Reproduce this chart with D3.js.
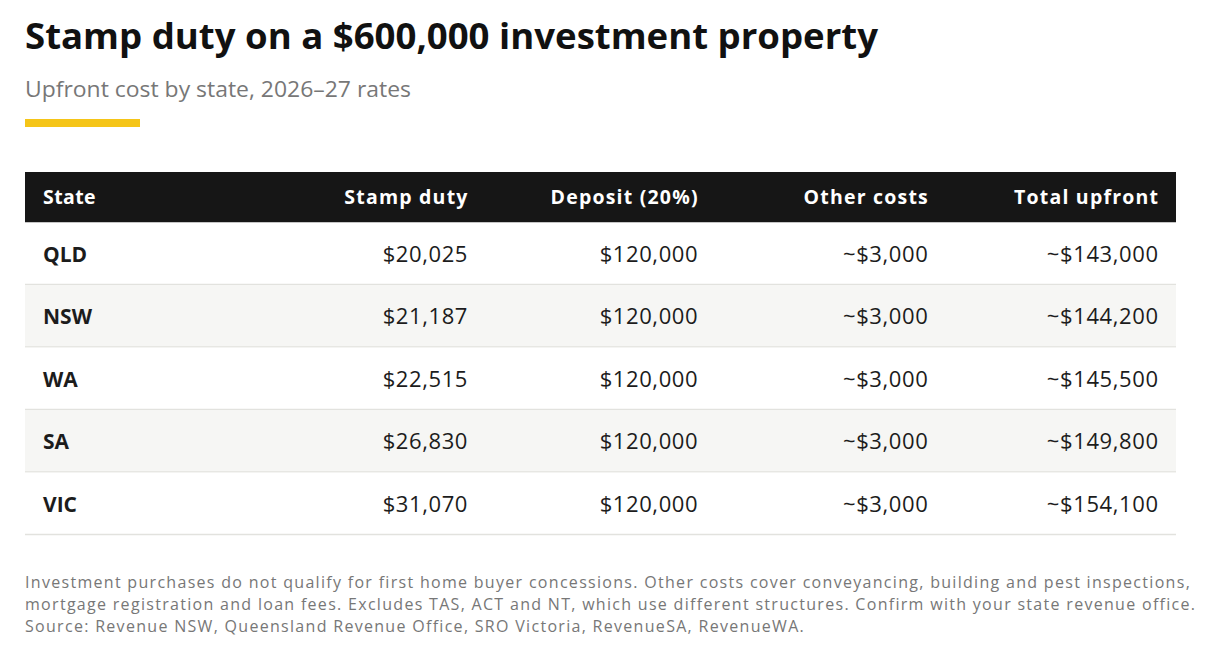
<!DOCTYPE html>
<html>
<head>
<meta charset="utf-8">
<script src="https://cdn.jsdelivr.net/npm/d3@7"></script>
<style>
  body { margin: 0; background: #fff; }
  svg { display: block; font-family: "Open Sans", sans-serif; }
</style>
</head>
<body>
<div class="chart-container"></div>
<script>
const states = ["QLD", "NSW", "WA", "SA", "VIC"];
const stampDuty = [20025, 21187, 22515, 26830, 31070];
const deposit = [120000, 120000, 120000, 120000, 120000];
const otherCosts = [3000, 3000, 3000, 3000, 3000];
const totalUpfront = [143000, 144200, 145500, 149800, 154100];
const columns = ["State", "Stamp duty", "Deposit (20%)", "Other costs", "Total upfront"];
const approxColumns = ["Other costs", "Total upfront"];

const footnoteLines = [
    "Investment purchases do not qualify for first home buyer concessions. Other costs cover conveyancing, building and pest inspections,",
    "mortgage registration and loan fees. Excludes TAS, ACT and NT, which use different structures. Confirm with your state revenue office.",
    "Source: Revenue NSW, Queensland Revenue Office, SRO Victoria, RevenueSA, RevenueWA."
];

const w = 1230;
const h = 670;
const left = 25;
const right = 1176;
const headerTop = 172;
const headerH = 50.5;
const rowsBottom = 535;
const cellPad = 18;

const money = d3.format("$,");

const rows = states.map((s, i) => ({
    "State": s,
    "Stamp duty": stampDuty[i],
    "Deposit (20%)": deposit[i],
    "Other costs": otherCosts[i],
    "Total upfront": totalUpfront[i]
}));

const svg = d3.select(".chart-container")
    .append("svg")
    .attr("width", w)
    .attr("height", h);

// title block
svg.append("text")
    .attr("x", left)
    .attr("y", 49)
    .style("font-size", "35px")
    .style("font-weight", 700)
    .attr("fill", "#111")
    .attr("textLength", 853)
    .attr("lengthAdjust", "spacingAndGlyphs")
    .text("Stamp duty on a $600,000 investment property");

svg.append("text")
    .attr("x", left)
    .attr("y", 97)
    .style("font-size", "21px")
    .attr("fill", "#777")
    .attr("textLength", 386)
    .attr("lengthAdjust", "spacingAndGlyphs")
    .text("Upfront cost by state, 2026\u201327 rates");

svg.append("rect")
    .attr("x", left)
    .attr("y", 119)
    .attr("width", 115)
    .attr("height", 8)
    .attr("fill", "#f5c518");

// table scales
const xScale = d3.scaleBand()
    .domain(columns)
    .range([left, right]);

const yScale = d3.scaleBand()
    .domain(states)
    .range([headerTop + headerH, rowsBottom]);

const textX = (col) => col === "State"
    ? xScale(col) + cellPad
    : xScale(col) + xScale.bandwidth() - cellPad;

const anchor = (col) => col === "State" ? "start" : "end";

// header
svg.append("rect")
    .attr("x", left)
    .attr("y", headerTop)
    .attr("width", right - left)
    .attr("height", headerH)
    .attr("fill", "#161616");

svg.selectAll(".header")
    .data(columns)
    .enter()
    .append("text")
    .attr("class", "header")
    .attr("x", (d) => textX(d) + (d === "State" ? 0 : 1.2))
    .attr("y", headerTop + headerH / 2 + 7)
    .attr("text-anchor", (d) => anchor(d))
    .style("font-size", "19.5px")
    .style("font-weight", 700)
    .style("letter-spacing", (d) => d === "State" ? "0.4px" : "1.2px")
    .attr("fill", "#fff")
    .text((d) => d);

// rows
const rowG = svg.selectAll(".row")
    .data(rows)
    .enter()
    .append("g")
    .attr("class", "row")
    .attr("transform", (d) => `translate(0,${yScale(d.State)})`);

rowG.append("rect")
    .attr("x", left)
    .attr("y", 0)
    .attr("width", right - left)
    .attr("height", yScale.bandwidth())
    .attr("fill", (d, i) => i % 2 ? "#f6f6f4" : "#fff");

rowG.append("line")
    .attr("x1", left)
    .attr("x2", right)
    .attr("y1", yScale.bandwidth() - 0.5)
    .attr("y2", yScale.bandwidth() - 0.5)
    .attr("stroke", "#e2e2de")
    .attr("stroke-width", 1.5);

rowG.selectAll(".cell")
    .data((d) => columns.map((c) => ({ col: c, value: d[c] })))
    .enter()
    .append("text")
    .attr("class", "cell")
    .attr("x", (d) => textX(d.col) + (d.col === "State" ? 0 : 0.6))
    .attr("y", yScale.bandwidth() / 2 + 8)
    .attr("text-anchor", (d) => anchor(d.col))
    .style("font-size", (d) => d.col === "State" ? "21px" : "22px")
    .style("font-weight", (d) => d.col === "State" ? 700 : 400)
    .style("letter-spacing", (d) => d.col === "State" ? "0px" : "0.6px")
    .attr("fill", "#1c1c1c")
    .text((d) => {
        if (d.col === "State") return d.value;
        return (approxColumns.includes(d.col) ? "~" : "") + money(d.value);
    });

// footnote
svg.selectAll(".note")
    .data(footnoteLines)
    .enter()
    .append("text")
    .attr("class", "note")
    .attr("x", left)
    .attr("y", (d, i) => 588 + i * 22)
    .style("font-size", "16px")
    .style("letter-spacing", "1.3px")
    .attr("fill", "#777")
    .text((d) => d);
</script>
</body>
</html>
